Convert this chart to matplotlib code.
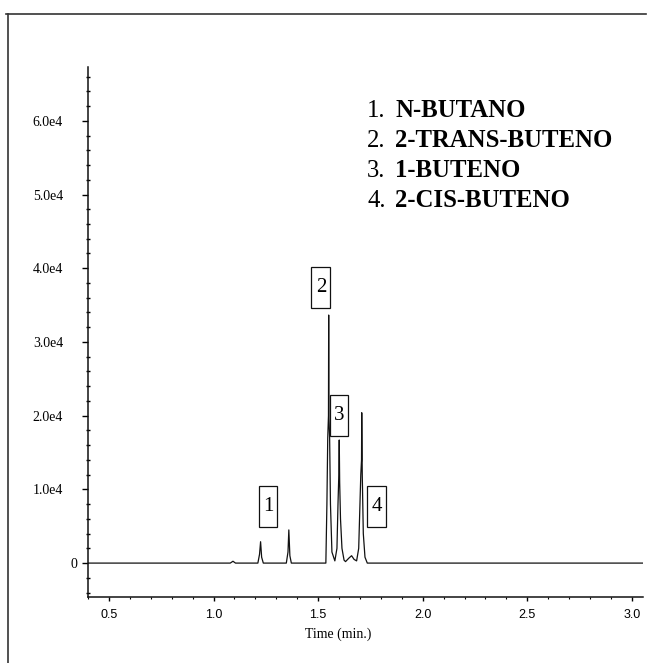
import matplotlib.pyplot as plt
import matplotlib.transforms as mtransforms
from matplotlib.lines import Line2D
from matplotlib.path import Path
from matplotlib.ticker import MultipleLocator, FixedLocator, FixedFormatter

# chromatogram trace (time in min, detector signal)
time = [0.40, 1.080, 1.093, 1.105,
        1.212, 1.220, 1.225, 1.230, 1.238,
        1.348, 1.356, 1.360, 1.365, 1.372,
        1.537, 1.542, 1.546, 1.5495, 1.5505, 1.5515, 1.555, 1.559, 1.566,
        1.580, 1.590, 1.595, 1.599, 1.601, 1.603, 1.607, 1.614, 1.624,
        1.631, 1.648, 1.660, 1.672, 1.684,
        1.694, 1.700, 1.704, 1.7075, 1.7085, 1.711, 1.716, 1.724, 1.735,
        3.05]
signal = [0, 0, 250, 0,
          0, 1200, 2900, 800, 0,
          0, 1500, 4500, 1000, 0,
          0, 8000, 17000, 20000, 33650, 20000, 17000, 8000, 1500,
          300, 2000, 8000, 12000, 16700, 11000, 6000, 2000, 400,
          200, 700, 1000, 500, 300,
          2000, 8000, 12000, 14000, 20400, 12000, 4000, 800, 0,
          0]

# peak labels
peak_ids = ['1', '2', '3', '4']
peak_label_t = [1.26, 1.513, 1.60, 1.779]
peak_label_y = [7700, 37400, 20000, 7700]

compounds = ['N-BUTANO', '2-TRANS-BUTENO', '1-BUTENO', '2-CIS-BUTENO']

y_major = [0, 10000, 20000, 30000, 40000, 50000, 60000]
y_labels = ['0', '1.0e4', '2.0e4', '3.0e4', '4.0e4', '5.0e4', '6.0e4']
x_major = [0.5, 1.0, 1.5, 2.0, 2.5, 3.0]


def tall_box(x0, y0, width, height, mutation_size):
    # narrow, tall frame around the peak numbers
    px = 0.2 * mutation_size
    py = 0.53 * mutation_size
    x0, x1 = x0 - px, x0 + width + px
    y0, y1 = y0 - py, y0 + height + py
    return Path([(x0, y0), (x1, y0), (x1, y1), (x0, y1), (x0, y0)], closed=True)


W, H = 649, 663
fig = plt.figure(figsize=(W / 100, H / 100), dpi=100)
ax = fig.add_axes([88 / W, 66 / H, (643 - 88) / W, (597 - 67) / H])

ax.plot(time, signal, color='#111111', lw=0.9)

ax.set_xlim(0.40, 3.053)
ax.set_ylim(-4600, 67300)

for s in ['top', 'right']:
    ax.spines[s].set_visible(False)
for s in ['left', 'bottom']:
    ax.spines[s].set_linewidth(1.1)
    ax.spines[s].set_color('#111111')

ax.yaxis.set_major_locator(FixedLocator(y_major))
ax.yaxis.set_major_formatter(FixedFormatter(y_labels))
ax.yaxis.set_minor_locator(MultipleLocator(2000))
ax.xaxis.set_major_locator(FixedLocator(x_major))
ax.xaxis.set_minor_locator(MultipleLocator(0.1))

ax.tick_params(axis='y', which='major', direction='out', length=4, width=1, pad=14)
ax.tick_params(axis='y', which='minor', direction='inout', length=3, width=1)
ax.tick_params(axis='x', which='major', direction='out', length=3, width=1, pad=6)
ax.tick_params(axis='x', which='minor', direction='out', length=1.5, width=0.8)

for lab in ax.get_yticklabels():
    lab.set_fontfamily('Liberation Serif')
    lab.set_fontsize(10)
for lab in ax.get_xticklabels():
    lab.set_fontfamily('Liberation Sans')
    lab.set_fontsize(9)

# the zero label sits closer to the axis
zero = ax.get_yticklabels()[0]
zero.set_transform(zero.get_transform() +
                   mtransforms.ScaledTranslation(14 / 100, 0, fig.dpi_scale_trans))

ax.set_xlabel('Time (min.)', fontfamily='Liberation Serif', fontsize=10)
ax.xaxis.set_label_coords((338 - 88) / 555, (597 - 634) / 530)
ax.xaxis.label.set_va('center')

for pid, t, y in zip(peak_ids, peak_label_t, peak_label_y):
    ax.text(t, y, pid, ha='center', va='center', fontsize=15,
            fontfamily='Liberation Serif',
            bbox=dict(boxstyle=tall_box, fc='white', ec='#111111', lw=0.9))

# compound list
for i, name in enumerate(compounds):
    yb = 1 - (117 + 30 * i) / H
    fig.text(367 / W, yb, f'{i + 1}.', fontsize=17.8, fontfamily='Liberation Serif',
             va='baseline', ha='left')
    fig.text(395 / W, yb, name, fontsize=17.8, fontfamily='Liberation Serif',
             fontweight='bold', va='baseline', ha='left')

# page frame
fig.add_artist(Line2D([8 / W, 8 / W], [0, 1 - 14 / H], transform=fig.transFigure,
                      color='#333333', lw=1.2))
fig.add_artist(Line2D([6 / W, 646 / W], [1 - 14 / H, 1 - 14 / H],
                      transform=fig.transFigure, color='#333333', lw=1.2))

fig.savefig('out.png', dpi=100)
